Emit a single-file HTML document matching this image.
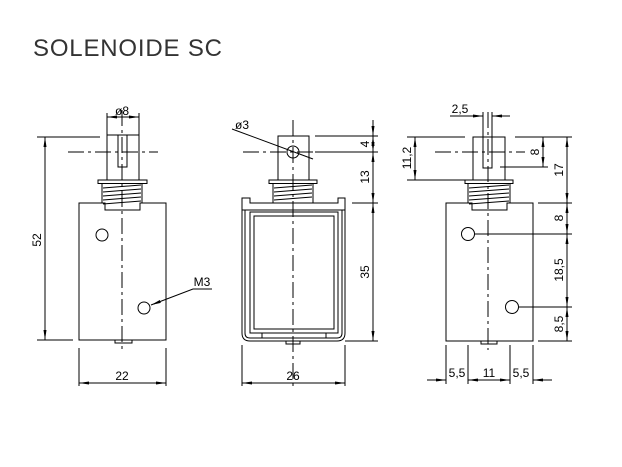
<!DOCTYPE html>
<html><head><meta charset="utf-8"><style>html,body{margin:0;padding:0;background:#fff}svg{display:block}</style></head>
<body>
<svg width="622" height="467" viewBox="0 0 622 467" xmlns="http://www.w3.org/2000/svg" font-family="Liberation Sans, sans-serif">
<defs>
<marker id="a" viewBox="0 0 10 6" refX="10" refY="3" markerWidth="10" markerHeight="6" orient="auto-start-reverse" markerUnits="userSpaceOnUse"><path d="M0,1.5 L10,3 L0,4.5 Z" fill="#000"/></marker>
</defs>
<text x="33" y="56" font-size="24" textLength="189" lengthAdjust="spacing" fill="#333">SOLENOIDE  SC</text>
<g stroke="#000" stroke-width="1" fill="none">
<!-- VIEW 1 -->
<path d="M79,203 H105 V210 H140 V203 H166 V340 H79 Z"/>
<rect x="107" y="135" width="32" height="45"/>
<path d="M118,135 V167 H127 V135"/>
<rect x="98" y="180" width="49" height="3.5"/>
<path d="M102,183.5 V203 M142,183.5 V203 M103,188 L141,185 M103,192 L141,189 M103,196 L141,193 M103,200 L141,197 M103,204 L141,201"/>
<rect x="115" y="340" width="17" height="3"/>
<circle cx="102" cy="235" r="6"/>
<circle cx="144" cy="308" r="6"/>
<path d="M212,289 H193 L151,305" marker-end="url(#a)"/>
<path d="M37,137 H100 M37,340 H73"/>
<path d="M45,137 V340" marker-start="url(#a)" marker-end="url(#a)"/>
<path d="M79,348 V386 M166,348 V386"/>
<path d="M79,383 H166" marker-start="url(#a)" marker-end="url(#a)"/>
<path d="M107,113 V135 M139,113 V135"/>
<path d="M107,117 H139" marker-start="url(#a)" marker-end="url(#a)"/>
<!-- VIEW 2 -->
<path d="M242,198 V333 Q242,341 250,341 H337 Q345,341 345,333 V198 H338 V203 H250 V198 Z"/>
<path d="M242,210 H345 M245,210 V333 Q245,338 250,338 H337 Q342,338 342,333 V210"/>
<rect x="250" y="212" width="88" height="121"/>
<rect x="254" y="216" width="80" height="113"/>
<path d="M262,333 V338 M326,333 V338"/>
<rect x="286" y="341" width="14" height="3"/>
<rect x="278" y="136" width="31" height="44"/>
<circle cx="293" cy="152" r="6"/>
<rect x="269" y="180" width="48" height="3.5"/>
<path d="M273,183.5 V203 M313,183.5 V203 M274,188 L312,185 M274,192 L312,189 M274,196 L312,193 M274,200 L312,197"/>
<path d="M232,129 L313,159"/>
<path d="M315,136 H378 M315,152 H378 M352,203 H378 M345,341 H378"/>
<path d="M373,120 V136" marker-end="url(#a)"/>
<path d="M373,136 V152" marker-start="url(#a)" marker-end="url(#a)"/>
<path d="M373,152 V203" marker-start="url(#a)" marker-end="url(#a)"/>
<path d="M373,203 V341" marker-start="url(#a)" marker-end="url(#a)"/>
<path d="M242,345 V386 M345,345 V386"/>
<path d="M242,383 H345" marker-start="url(#a)" marker-end="url(#a)"/>
<!-- VIEW 3 -->
<path d="M446,203 H472 V210 H507 V203 H533 V341 H446 Z"/>
<rect x="473" y="137" width="32" height="43"/>
<path d="M483,137 V168 H492 V137"/>
<rect x="465" y="180" width="48" height="3.5"/>
<path d="M468,183.5 V203 M510,183.5 V203 M469,188 L509,185 M469,192 L509,189 M469,196 L509,193 M469,200 L509,197 M469,204 L509,201"/>
<rect x="481" y="341" width="16" height="3"/>
<circle cx="468" cy="234" r="6.5"/>
<circle cx="512" cy="307" r="6.5"/>
<path d="M474.5,234 H572 M518.5,307 H572"/>
<path d="M515,137 H572 M538,203 H572 M538,341 H572"/>
<path d="M567,137 V203" marker-start="url(#a)" marker-end="url(#a)"/>
<path d="M567,203 V234" marker-start="url(#a)" marker-end="url(#a)"/>
<path d="M567,234 V307" marker-start="url(#a)" marker-end="url(#a)"/>
<path d="M567,307 V341" marker-start="url(#a)" marker-end="url(#a)"/>
<path d="M500,167 H548"/>
<path d="M543,137 V167" marker-start="url(#a)" marker-end="url(#a)"/>
<path d="M407,137 H465 M407,180 H465"/>
<path d="M415,137 V180" marker-start="url(#a)" marker-end="url(#a)"/>
<path d="M483,112 V137 M492,112 V137"/>
<path d="M450,116 H483" marker-end="url(#a)"/>
<path d="M510,116 H492" marker-end="url(#a)"/>
<path d="M446,345 V384 M468,345 V384 M510,345 V384 M533,345 V384"/>
<path d="M427,380 H446" marker-end="url(#a)"/>
<path d="M468,380 H510" marker-start="url(#a)" marker-end="url(#a)"/>
<path d="M552,380 H533" marker-end="url(#a)"/>
</g>
<g stroke="#000" stroke-width="1" stroke-dasharray="16,4,3,4" fill="none">
<path d="M122,110 V350 M68,152 H158"/>
<path d="M293,120 V390 M243,152 H377"/>
<path d="M488,112 V350 M435,152 H525"/>
</g>
<g font-size="12" fill="#000" text-anchor="middle">
<text x="202" y="286">M3</text>
<text x="122" y="380">22</text>
<text x="122" y="115">ø8</text>
<text transform="translate(41,240) rotate(-90)">52</text>
<text x="242" y="129">ø3</text>
<text x="293" y="380">26</text>
<text transform="translate(369,144) rotate(-90)">4</text>
<text transform="translate(369,177) rotate(-90)">13</text>
<text transform="translate(369,272) rotate(-90)">35</text>
<text x="460" y="113">2,5</text>
<text transform="translate(411,158) rotate(-90)">11,2</text>
<text transform="translate(539,152) rotate(-90)">8</text>
<text transform="translate(563,170) rotate(-90)">17</text>
<text transform="translate(563,218) rotate(-90)">8</text>
<text transform="translate(563,270) rotate(-90)">18,5</text>
<text transform="translate(563,324) rotate(-90)">8,5</text>
<text x="457" y="377">5,5</text>
<text x="489" y="377">11</text>
<text x="521" y="377">5,5</text>
</g>
</svg>
</body></html>
